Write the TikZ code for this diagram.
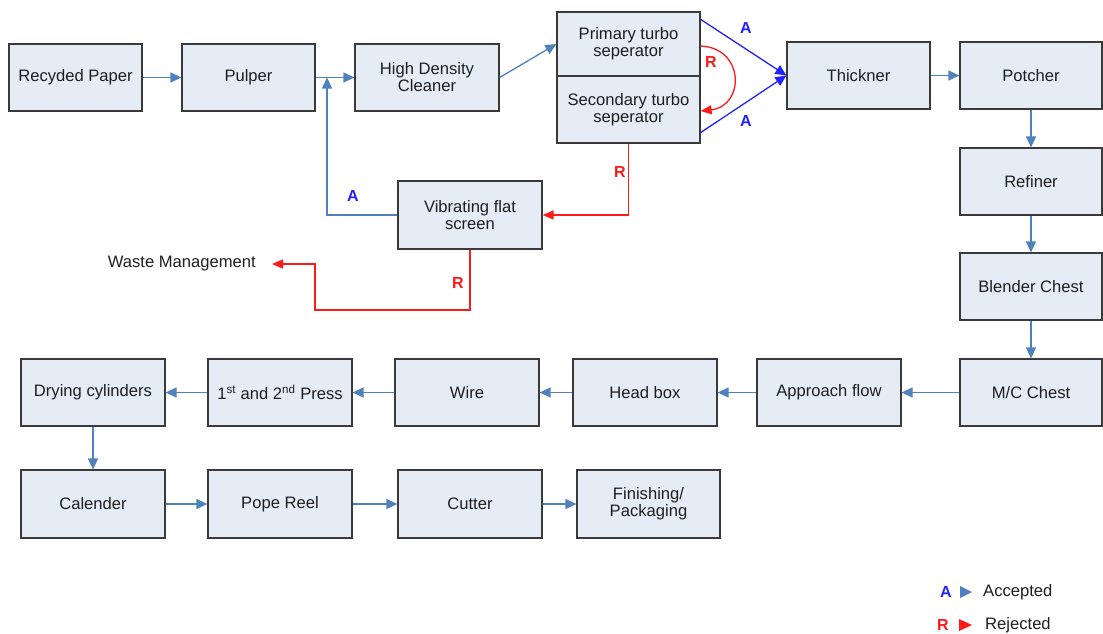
\documentclass[tikz,border=0pt]{standalone}
\usepackage{fontspec}
\setmainfont{Liberation Sans}
\usetikzlibrary{arrows.meta}
\definecolor{boxfill}{HTML}{E6ECF6}
\definecolor{boxline}{HTML}{3A3A3A}
\definecolor{flow}{HTML}{4F81BD}
\definecolor{acc}{HTML}{2222FF}
\definecolor{rej}{HTML}{FF1A1A}
\definecolor{txt}{HTML}{1E1E1E}
\tikzset{
  box/.style={draw=boxline, fill=boxfill, line width=1.2pt, minimum width=143pt, minimum height=67pt,
    align=center, inner sep=2pt, text=txt, font=\fontsize{16.6}{17}\selectfont},
  flowarrow/.style={draw=flow, line width=1.3pt, -{Triangle[length=11pt,width=10pt]}},
  accarrow/.style={draw=acc, line width=1.3pt, -{Triangle[length=11pt,width=10pt]}},
  rejarrow/.style={draw=rej, line width=1.3pt, -{Triangle[length=11pt,width=9pt]}},
  lab/.style={font=\fontsize{16}{18}\selectfont\bfseries, inner sep=0pt},
  plain/.style={font=\fontsize{16.6}{18}\selectfont, text=txt, inner sep=2pt},
}
\begin{document}
\begin{tikzpicture}[x=1pt,y=-1pt]
\useasboundingbox (0,0) rectangle (1103,633);
% top row
\node[box, minimum width=133pt] (rp) at (75.5,77.5) {Recyded Paper};
\node[box, minimum width=133pt] (pu) at (248.5,77.5) {Pulper};
\node[box, minimum width=144pt] (hdc) at (427,77.5) {High Density\\Cleaner};
\node[box, minimum height=64pt] (prim) at (628.5,44) {Primary turbo\\seperator};
\node[box, minimum height=67pt] (sec) at (628.5,109.5) {Secondary turbo\\seperator};
\node[box] (thk) at (858.5,75.5) {Thickner};
\node[box, minimum width=142pt] (pot) at (1031,75.5) {Potcher};
\node[box, minimum width=142pt] (ref) at (1031,181.5) {Refiner};
\node[box, minimum width=142pt] (ble) at (1031,286.5) {Blender Chest};
\node[box, minimum width=142pt] (mc) at (1031,392.5) {M/C Chest};
\node[box, minimum width=144pt] (app) at (829,392.5) {Approach flow};
\node[box, minimum width=144pt] (hb) at (645,392.5) {Head box};
\node[box, minimum width=144pt] (wi) at (467,392.5) {Wire};
\node[box, minimum width=144pt] (pr) at (280,392.5) {1\textsuperscript{st} and 2\textsuperscript{nd} Press};
\node[box, minimum width=144pt] (dc) at (93,392.5) {Drying cylinders};
\node[box, minimum width=144pt, minimum height=68pt] (cal) at (93,504) {Calender};
\node[box, minimum width=144pt, minimum height=68pt] (pope) at (280,504) {Pope Reel};
\node[box, minimum width=144pt, minimum height=68pt] (cut) at (470,504) {Cutter};
\node[box, minimum width=143pt, minimum height=68pt] (fin) at (648.5,504) {Finishing/\\Packaging};
\node[box, minimum width=144pt, minimum height=68pt] (vfs) at (470,215) {Vibrating flat\\screen};
\node[plain, anchor=east] (waste) at (258,264) {Waste Management};
\coordinate (join) at (327,77.5);

% flow arrows
\draw[flowarrow] (rp) -- (pu);
\draw[flowarrow] (pu) -- (hdc);
\draw[flowarrow] (hdc.east) -- (prim.west);
\draw[flowarrow] (thk) -- (pot);
\draw[flowarrow] (pot) -- (ref);
\draw[flowarrow] (ref) -- (ble);
\draw[flowarrow] (ble) -- (mc);
\draw[flowarrow] (mc) -- (app);
\draw[flowarrow] (app) -- (hb);
\draw[flowarrow] (hb) -- (wi);
\draw[flowarrow] (wi) -- (pr);
\draw[flowarrow] (pr) -- (dc);
\draw[flowarrow] (dc) -- (cal);
\draw[flowarrow] (cal) -- (pope);
\draw[flowarrow] (pope) -- (cut);
\draw[flowarrow] (cut) -- (fin);
\draw[flowarrow] (vfs.west) -| (join);
\node[lab, text=acc] (la1) at (353,196) {A};

% turbo separator outputs
\draw[accarrow] ([yshift=-8pt]prim.north east) -- (thk.west);
\draw[accarrow] ([yshift=11pt]sec.south east) -- (thk.west);
\node[lab, text=acc] (la2) at (746,28) {A};
\node[lab, text=acc] (la3) at (746,121) {A};
\draw[rejarrow] ([yshift=-2pt]prim.east) .. controls (745,48) and (745,106) .. ([yshift=-1.5pt]sec.east);
\node[lab, text=rej] (lr1) at (711,62) {R};

% rejects
\draw[rejarrow] (sec.south) |- (vfs.east);
\node[lab, text=rej] (lr2) at (620,172) {R};
\draw[rejarrow] (vfs.south) -- (470,310) -- (315,310) -- (315,264) -- ([xshift=14pt]waste.east);
\node[lab, text=rej] (lr3) at (458,283) {R};

% legend
\node[lab, text=acc] (lga) at (946,592) {A};
\fill[flow] (960,586) -- (972,592) -- (960,598) -- cycle;
\node[plain, anchor=west] (lgat) at (981,592) {Accepted};
\node[lab, text=rej] (lgr) at (943,625) {R};
\fill[rej] (959,619) -- (972,625) -- (959,631) -- cycle;
\node[plain, anchor=west] (lgrt) at (983,625) {Rejected};
\end{tikzpicture}
\end{document}
